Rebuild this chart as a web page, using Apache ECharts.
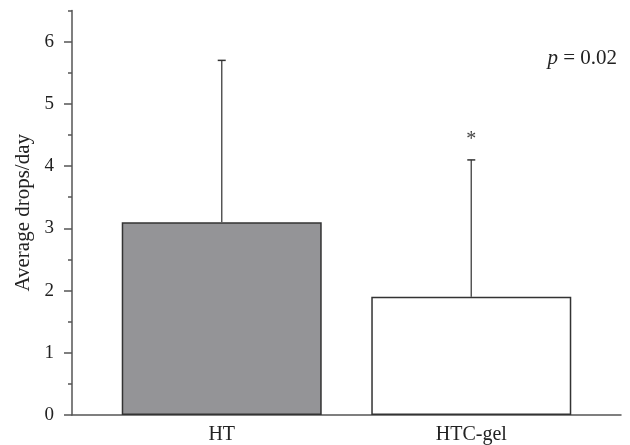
<!DOCTYPE html>
<html>
<head>
<meta charset="utf-8">
<script src="https://cdn.jsdelivr.net/npm/echarts@6/dist/echarts.min.js"></script>
<style>html,body{margin:0;padding:0;background:#fff}#c{width:630px;height:445px}</style>
</head>
<body>
<div id="c"></div>
<script>
var categories = ['HT', 'HTC-gel'];
var meanValues = [3.1, 1.9];
var upperValues = [5.7, 4.1];
var sigMarks = ['', '*'];
var barColors = ['#949497', '#ffffff'];
var yMajorTicks = [0, 1, 2, 3, 4, 5, 6];
var yMinorTicks = [0.5, 1.5, 2.5, 3.5, 4.5, 5.5, 6.5];
var pText = '0.02';

var positions = categories.map(function (c, i) { return i + 1; });
var FONT = '"Liberation Serif", "DejaVu Serif", serif';

var chart = echarts.init(document.getElementById('c'), null, {renderer: 'canvas'});
var option = {
  animation: false,
  backgroundColor: '#fff',
  grid: {left: 72, right: 9, top: 10.6, bottom: 30, containLabel: false},
  xAxis: {
    type: 'value', min: 0.4, max: 2.6,
    axisLine: {show: true, lineStyle: {color: '#555', width: 1.5}},
    axisTick: {show: false},
    splitLine: {show: false},
    axisLabel: {
      customValues: positions,
      margin: 10,
      color: '#222', fontFamily: FONT, fontSize: 20,
      formatter: function (v) { return categories[Math.round(v) - 1] || ''; }
    }
  },
  yAxis: [{
    type: 'value', min: 0, max: 6.5,
    name: 'Average drops/day', nameLocation: 'middle', nameGap: 36,
    nameTextStyle: {color: '#222', fontFamily: FONT, fontSize: 21},
    axisLine: {show: true, lineStyle: {color: '#555', width: 1.5}},
    axisTick: {show: true, customValues: yMajorTicks, length: 8, lineStyle: {color: '#555', width: 1.5}},
    axisLabel: {customValues: yMajorTicks, margin: 18, color: '#222', fontFamily: FONT, fontSize: 19},
    splitLine: {show: false}
  }, {
    type: 'value', min: 0, max: 6.5, position: 'left',
    axisLine: {show: false},
    axisTick: {show: true, customValues: yMinorTicks, length: 4, lineStyle: {color: '#555', width: 1.5}},
    axisLabel: {show: false},
    splitLine: {show: false}
  }],
  series: [{
    type: 'bar',
    barWidth: 200,
    data: positions.map(function (p, i) {
      return {value: [p, meanValues[i]], itemStyle: {color: barColors[i], borderColor: '#333', borderWidth: 1.5}};
    })
  }, {
    type: 'custom',
    data: positions.map(function (p, i) { return [p, meanValues[i], upperValues[i], i]; }),
    renderItem: function (params, api) {
      var x = api.value(0);
      var top = api.coord([x, api.value(1)]);
      var up = api.coord([x, api.value(2)]);
      var idx = api.value(3);
      var children = [
        {type: 'line', shape: {x1: up[0], y1: top[1], x2: up[0], y2: up[1]}, style: {stroke: '#555', lineWidth: 1.5}},
        {type: 'line', shape: {x1: up[0] - 4, y1: up[1], x2: up[0] + 4, y2: up[1]}, style: {stroke: '#333', lineWidth: 1.5}}
      ];
      if (sigMarks[idx]) {
        children.push({type: 'text', style: {text: sigMarks[idx], x: up[0], y: up[1] - 20, align: 'center', verticalAlign: 'middle', fill: '#444', font: '20px ' + FONT}});
      }
      return {type: 'group', children: children};
    }
  }],
  graphic: [{
    type: 'text', right: 13, top: 48,
    style: {
      text: '{i|p} = ' + pText,
      rich: {i: {fontStyle: 'italic', fontFamily: FONT, fontSize: 21, fill: '#222'}},
      font: '21px ' + FONT, fill: '#222'
    }
  }]
};
chart.setOption(option);
</script>
</body>
</html>
